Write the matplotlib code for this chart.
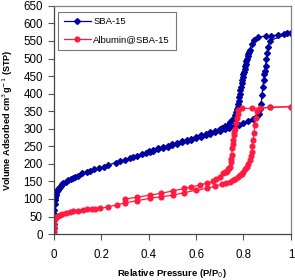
import matplotlib
matplotlib.use("Agg")
import matplotlib.pyplot as plt

plt.rcParams['font.family'] = ['Liberation Sans', 'DejaVu Sans']

# SBA-15 adsorption branch
sba_ads_x = [0.0, 0.0005, 0.001, 0.0015, 0.002, 0.003, 0.004, 0.005, 0.006, 0.008, 0.01, 0.012, 0.015,
             0.018, 0.02, 0.025, 0.03, 0.035, 0.04, 0.05, 0.06, 0.07, 0.08, 0.09,
             0.10, 0.12, 0.14, 0.15, 0.17, 0.19, 0.21, 0.23, 0.26, 0.28, 0.30, 0.32, 0.335, 0.35, 0.37,
             0.39, 0.405, 0.42, 0.44, 0.46, 0.48, 0.50, 0.52, 0.54, 0.56, 0.58,
             0.60, 0.62, 0.64, 0.66, 0.68, 0.70, 0.72, 0.74, 0.76, 0.78, 0.80, 0.82, 0.84, 0.855,
             0.865, 0.87, 0.875, 0.878, 0.882, 0.885, 0.888, 0.89, 0.893, 0.897, 0.9, 0.904, 0.911, 1.0]
sba_ads_y = [17, 30, 45, 58, 70, 85, 97, 102, 105, 112, 118, 122, 125,
             129, 131, 135, 138, 142, 145, 149, 153, 157, 160, 163,
             166, 173, 177, 180, 184, 188, 192, 197, 203, 207, 212, 216, 220, 223, 227,
             231, 234, 237, 241, 245, 249, 253, 257, 261, 265, 269,
             273, 277, 281, 286, 290, 294, 298, 303, 307, 312, 316, 322, 328, 335,
             342, 355, 370, 395, 420, 440, 455, 465, 480, 500, 517, 534, 551, 574]
# SBA-15 desorption branch
sba_des_x = [1.0, 0.985, 0.97, 0.944, 0.915, 0.893, 0.862, 0.845, 0.834, 0.827, 0.823, 0.82, 0.817,
             0.815, 0.812, 0.81, 0.807, 0.805, 0.802, 0.80, 0.797, 0.795, 0.792, 0.79,
             0.787, 0.785, 0.782, 0.78, 0.777, 0.775, 0.772, 0.77, 0.765, 0.76, 0.752, 0.745, 0.735,
             0.72, 0.71, 0.70, 0.68, 0.66, 0.64, 0.62, 0.60, 0.58, 0.56, 0.54, 0.52, 0.50, 0.48,
             0.46, 0.44, 0.42, 0.40]
sba_des_y = [574, 572, 571, 567, 565, 564, 561, 552, 540, 525, 518, 512, 506,
             500, 492, 485, 478, 470, 462, 455, 446, 438, 429, 420,
             410, 400, 390, 380, 370, 362, 355, 348, 340, 332, 325, 318, 312,
             307, 303, 300, 295, 290, 285, 281, 276, 272, 268, 264, 260, 256, 252,
             248, 244, 240, 236]

# Albumin@SBA-15 adsorption branch
alb_ads_x = [0.0, 0.0005, 0.001, 0.0015, 0.002, 0.003, 0.005, 0.008, 0.01, 0.015, 0.025, 0.035,
             0.05, 0.068, 0.08, 0.10, 0.124, 0.14, 0.16, 0.175, 0.194, 0.23, 0.265,
             0.30, 0.35, 0.405, 0.45, 0.503, 0.55, 0.60, 0.644, 0.68, 0.71, 0.728, 0.743, 0.755,
             0.765, 0.775, 0.785, 0.793, 0.80, 0.807, 0.813, 0.82, 0.827, 0.831, 0.835, 0.838,
             0.841, 0.844, 0.848, 0.852, 0.855, 0.87, 0.911, 1.0]
alb_ads_y = [2, 10, 20, 30, 40, 44, 47, 49, 50, 52, 54, 57, 60, 64, 65, 67, 70, 71, 72, 72, 73, 78, 83,
             89, 95, 102, 106, 111, 118, 125, 130, 136, 142, 145, 149, 153,
             157, 162, 168, 172, 178, 184, 192, 200, 211, 222, 235, 250,
             268, 288, 310, 332, 350, 358, 361, 363]
# Albumin@SBA-15 desorption branch
alb_des_x = [1.0, 0.911, 0.834, 0.792, 0.778, 0.775, 0.772, 0.768, 0.765, 0.762, 0.76, 0.757, 0.755,
             0.753, 0.75, 0.748, 0.746, 0.743, 0.739, 0.735, 0.73, 0.725, 0.72, 0.714, 0.70,
             0.686, 0.672, 0.645, 0.616, 0.58, 0.55, 0.503, 0.45, 0.405, 0.35, 0.30]
alb_des_y = [363, 361, 358, 358, 353, 342, 330, 315, 300, 290, 282, 268, 257,
             245, 225, 214, 205, 192, 188, 184, 181, 178, 176, 173, 162,
             156, 150, 145, 140, 134, 130, 123, 116, 111, 105, 100]

x_ticks = [0, 0.2, 0.4, 0.6, 0.8, 1]
x_tick_labels = ['0', '0.2', '0.4', '0.6', '0.8', '1']
y_ticks = list(range(0, 651, 50))

blue = '#0000a0'
red = '#ff1a40'

fig = plt.figure(figsize=(2.95, 2.80), dpi=100)
ax = fig.add_axes([0.183, 0.164, 0.803, 0.815])

ax.plot(sba_ads_x, sba_ads_y, color=blue, lw=0.9, marker='D', ms=3.0, mec=blue, mfc=blue,
        label='SBA-15')
ax.plot(sba_des_x, sba_des_y, color=blue, lw=0.9, marker='D', ms=3.0, mec=blue, mfc=blue)
ax.plot(alb_ads_x, alb_ads_y, color=red, lw=0.9, marker='o', ms=3.4, mec=red, mfc=red,
        label='Albumin@SBA-15')
ax.plot(alb_des_x, alb_des_y, color=red, lw=0.9, marker='o', ms=3.4, mec=red, mfc=red)

ax.set_xlim(0, 1)
ax.set_ylim(0, 650)
ax.set_xticks(x_ticks)
ax.set_xticklabels(x_tick_labels)
ax.set_yticks(y_ticks)
ax.tick_params(axis='both', labelsize=8.3, length=4, width=0.8, color='#555555')
ax.tick_params(axis='y', pad=4)
ax.tick_params(axis='x', pad=7)

for side in ['left', 'bottom']:
    ax.spines[side].set_color('#444444')
    ax.spines[side].set_linewidth(0.9)
for side in ['top', 'right']:
    ax.spines[side].set_color('#808080')
    ax.spines[side].set_linewidth(0.9)

ax.set_xlabel('Relative Pressure (P/P$_0$)', fontsize=6.8, fontweight='bold')
ax.set_ylabel('Volume Adsorbed cm$^3$g$^{-1}$ (STP)', fontsize=6.6, fontweight='bold')
ax.xaxis.set_label_coords(0.5, -0.145)
ax.yaxis.set_label_coords(-0.163, 0.5)

leg = ax.legend(loc='upper left', bbox_to_anchor=(0.017, 0.974), fontsize=6.8, frameon=True,
                fancybox=False, edgecolor='#555555', borderpad=0.6, handlelength=2.9,
                handletextpad=0.25, labelspacing=0.9, borderaxespad=0)
leg.get_frame().set_linewidth(0.8)

fig.savefig('out.png', dpi=100)
